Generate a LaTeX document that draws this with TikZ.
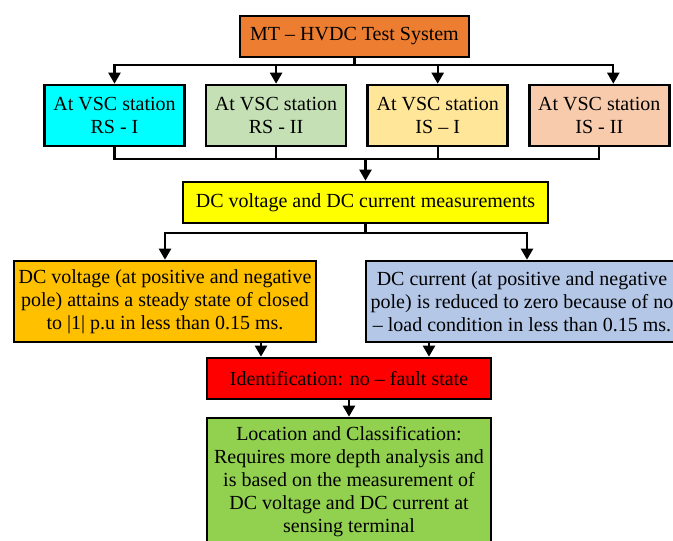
\documentclass[tikz,border=0pt]{standalone}
\usepackage{fontspec}
\setmainfont{Liberation Serif}
\usetikzlibrary{positioning}
\usetikzlibrary{arrows.meta}
\definecolor{sysorange}{HTML}{ED7D31}
\definecolor{rscyan}{HTML}{00FFFF}
\definecolor{rsgreen}{HTML}{C5E0B4}
\definecolor{isyellow}{HTML}{FFE699}
\definecolor{issalmon}{HTML}{F8CBAD}
\definecolor{measyellow}{HTML}{FFFF00}
\definecolor{voltorange}{HTML}{FFC000}
\definecolor{currblue}{HTML}{B4C7E7}
\definecolor{identred}{HTML}{FF0000}
\definecolor{locgreen}{HTML}{92D050}

\begin{document}
\begin{tikzpicture}[x=1pt, y=-1pt, node distance=19pt,
    box/.style={draw, line width=2.6pt, align=center, inner sep=0pt, font=\fontsize{20}{23}\selectfont},
    wire/.style={line width=2.2pt},
    arr/.style={line width=2.2pt, -{Triangle[length=11pt,width=12pt]}}]
    \useasboundingbox (0,0) rectangle (673,541);
    \clip (0,0) rectangle (673,541);

    \node (sys) [box, fill=sysorange, minimum width=229pt, minimum height=41pt] at (354.5,36.5) {MT -- HVDC Test System};

    \node (rs1) [box, fill=rscyan, minimum width=140pt, minimum height=61pt] at (114.5,115.5) {At VSC station\\RS - I};
    \node (rs2) [box, fill=rsgreen, minimum width=140pt, minimum height=61pt, right=of rs1] {At VSC station\\RS - II};
    \node (is1) [box, fill=isyellow, minimum width=140pt, minimum height=61pt, right=of rs2] {At VSC station\\IS -- I};
    \node (is2) [box, fill=issalmon, minimum width=140pt, minimum height=61pt, right=of is1] {At VSC station\\IS - II};

    \node (meas) [box, fill=measyellow, minimum width=365pt, minimum height=41pt] at (365.5,202.5) {DC voltage and DC current measurements};

    \node (volt) [box, fill=voltorange, minimum width=302pt, minimum height=81pt] at (165,301.5) {DC voltage (at positive and negative\\pole) attains a steady state of closed\\to |1| p.u in less than 0.15 ms.};
    \node (curr) [box, fill=currblue, minimum width=312pt, minimum height=81pt] at (522,301.5) {DC current (at positive and negative\\pole) is reduced to zero because of no\\-- load condition in less than 0.15 ms.};

    \node (ident) [box, fill=identred, minimum width=284pt, minimum height=41pt] at (349,378.5) {Identification: no -- fault state};
    \node (loc) [box, fill=locgreen, minimum width=284pt, minimum height=128pt] at (349,482) {Location and Classification:\\Requires more depth analysis and\\is based on the measurement of\\DC voltage and DC current at\\sensing terminal};

    % busses
    \coordinate (bus1) at (sys.south |- 0,65);
    \coordinate (bus2) at (meas.north |- 0,159);
    \coordinate (bus3) at (meas.south |- 0,233);
    \coordinate (in4) at ([xshift=14pt]is2.north);
    \coordinate (in5) at (curr.north -| 527,0);

    \draw[arr] (sys.south) -- (bus1) -| (rs1.north);
    \draw[arr] (sys.south) -- (bus1) -| (rs2.north);
    \draw[arr] (sys.south) -- (bus1) -| (is1.north);
    \draw[arr] (sys.south) -- (bus1) -| (in4);

    \draw[wire] (rs1.south) |- (bus2);
    \draw[wire] (rs2.south) |- (bus2);
    \draw[wire] (is1.south) |- (bus2);
    \draw[wire] (is2.south) |- (bus2);
    \draw[arr] (bus2) -- (meas.north);

    \draw[arr] (meas.south) -- (bus3) -| (volt.north);
    \draw[arr] (meas.south) -- (bus3) -| (in5);

    \draw[arr] (volt.south -| 261,0) -- (ident.north -| 261,0);
    \draw[arr] (curr.south -| 429,0) -- (ident.north -| 429,0);
    \draw[arr] (ident) -- (loc);
\end{tikzpicture}
\end{document}
